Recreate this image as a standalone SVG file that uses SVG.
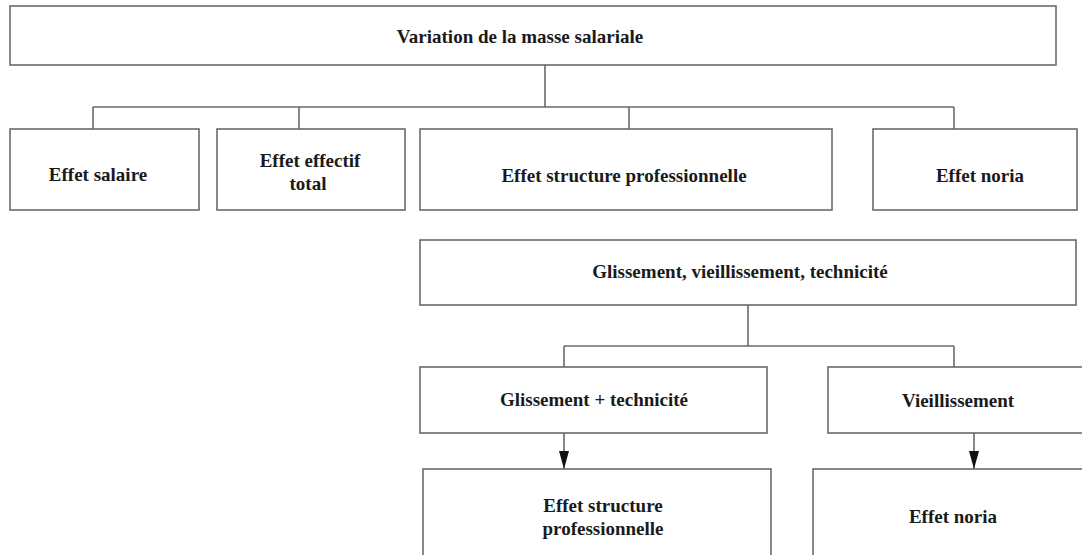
<svg xmlns="http://www.w3.org/2000/svg" width="1082" height="555" viewBox="0 0 1082 555">
<style>
.box{fill:#fff;stroke:#6a6a6a;stroke-width:1.6}
.ln{fill:none;stroke:#6a6a6a;stroke-width:1.6}
text{font-family:"Liberation Serif","Times New Roman",serif;font-size:19px;font-weight:bold;fill:#1a1a1a;text-anchor:middle}
</style>
<defs>
<marker id="ah" markerUnits="userSpaceOnUse" markerWidth="20" markerHeight="12" refX="18" refY="5" orient="auto">
<path d="M0,0 L18,5 L0,10 Z" fill="#111"/>
</marker>
</defs>
<rect width="1082" height="555" fill="#fff"/>
<g id="connectors">
<path class="ln" d="M545,65 V107 M93,107 H954 M93,107 V129 M299,107 V129 M629,107 V129 M954,107 V129"/>
<path class="ln" d="M748,305 V346 M564,346 H954 M564,346 V367 M954,346 V367"/>
<path class="ln" d="M564,433 V469" marker-end="url(#ah)"/>
<path class="ln" d="M974,433 V469" marker-end="url(#ah)"/>
</g>
<g id="n-top"><rect class="box" x="10" y="6" width="1046" height="59"/><text x="520" y="43">Variation de la masse salariale</text></g>
<g id="n-salaire"><rect class="box" x="10" y="129" width="189" height="81"/><text x="98" y="181">Effet salaire</text></g>
<g id="n-effectif"><rect class="box" x="217" y="129" width="188" height="81"/><text x="310" y="167">Effet effectif</text><text x="308" y="190">total</text></g>
<g id="n-structure"><rect class="box" x="420" y="129" width="412" height="81"/><text x="624" y="182">Effet structure professionnelle</text></g>
<g id="n-noria"><rect class="box" x="873" y="129" width="204" height="81"/><text x="980" y="182">Effet noria</text></g>
<g id="n-gvt"><rect class="box" x="420" y="240" width="656" height="65"/><text x="740" y="278">Glissement, vieillissement, technicité</text></g>
<g id="n-gt"><rect class="box" x="420" y="367" width="347" height="66"/><text x="594" y="406">Glissement + technicité</text></g>
<g id="n-v"><rect class="box" x="828" y="367" width="270" height="66"/><text x="958" y="407">Vieillissement</text></g>
<g id="n-esp"><rect class="box" x="423" y="469" width="348" height="100"/><text x="603" y="512">Effet structure</text><text x="603" y="535">professionnelle</text></g>
<g id="n-en"><rect class="box" x="813" y="469" width="285" height="100"/><text x="953" y="523">Effet noria</text></g>
</svg>
